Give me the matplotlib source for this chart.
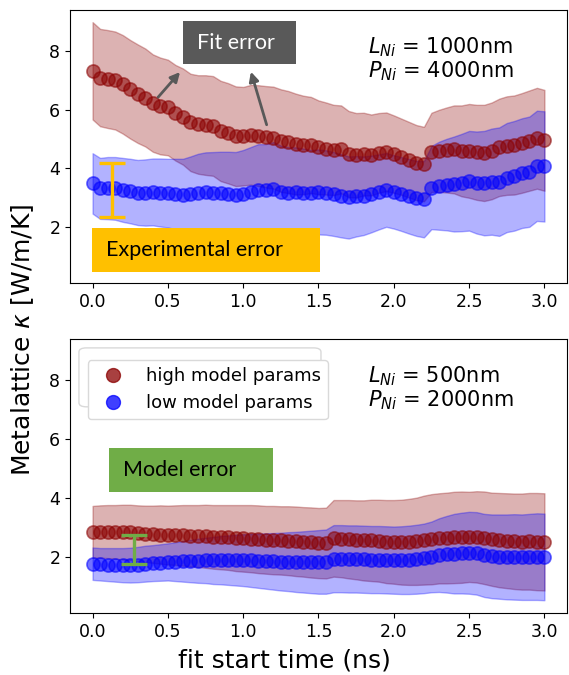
import numpy as np
import matplotlib
matplotlib.use("Agg")
import matplotlib.pyplot as plt
from matplotlib.patches import Rectangle, FancyBboxPatch
from matplotlib.lines import Line2D

# fit start times (ns)
t = np.round(np.arange(61) * 0.05, 2)

# --- top panel: L_Ni = 1000nm, P_Ni = 4000nm ---
top_high = [7.33, 7.10, 7.05, 7.00, 6.87, 6.70, 6.55, 6.42, 6.23, 6.13,
            6.08, 5.90, 5.77, 5.57, 5.50, 5.48, 5.45, 5.28, 5.20, 5.10,
            5.10, 5.15, 5.12, 5.08, 5.05, 4.95, 4.90, 4.83, 4.80, 4.80,
            4.72, 4.68, 4.63, 4.65, 4.49, 4.45, 4.49, 4.46, 4.53, 4.57,
            4.49, 4.40, 4.30, 4.20, 4.15, 4.55, 4.60, 4.63, 4.65, 4.60,
            4.60, 4.55, 4.53, 4.60, 4.72, 4.78, 4.80, 4.87, 4.95, 5.03, 4.96]
top_high_err = [1.66, 1.66, 1.67, 1.67, 1.68, 1.68, 1.68, 1.67, 1.66, 1.65,
                1.63, 1.63, 1.64, 1.66, 1.68, 1.70, 1.70, 1.71, 1.71, 1.70,
                1.68, 1.70, 1.72, 1.73, 1.74, 1.75, 1.74, 1.72, 1.68, 1.64,
                1.60, 1.57, 1.54, 1.50, 1.47, 1.44, 1.41, 1.38, 1.36, 1.34,
                1.32, 1.30, 1.29, 1.28, 1.27, 1.35, 1.40, 1.45, 1.50, 1.55,
                1.60, 1.62, 1.64, 1.65, 1.66, 1.68, 1.69, 1.70, 1.71, 1.72, 1.72]
top_low = [3.49, 3.32, 3.33, 3.32, 3.27, 3.23, 3.18, 3.18, 3.20, 3.18,
           3.16, 3.13, 3.09, 3.13, 3.18, 3.20, 3.18, 3.16, 3.13, 3.09,
           3.13, 3.20, 3.27, 3.25, 3.30, 3.20, 3.18, 3.20, 3.18, 3.16,
           3.20, 3.18, 3.13, 3.07, 3.01, 3.05, 3.07, 3.13, 3.20, 3.27,
           3.20, 3.13, 3.05, 2.98, 2.95, 3.35, 3.41, 3.45, 3.47, 3.52,
           3.58, 3.52, 3.50, 3.55, 3.55, 3.69, 3.75, 3.84, 3.89, 4.09, 4.07]
top_low_err = [1.03, 1.04, 1.06, 1.07, 1.09, 1.10, 1.11, 1.13, 1.14, 1.16,
               1.17, 1.20, 1.24, 1.28, 1.32, 1.35, 1.38, 1.41, 1.44, 1.47,
               1.50, 1.53, 1.56, 1.58, 1.60, 1.58, 1.55, 1.52, 1.50, 1.47,
               1.45, 1.44, 1.43, 1.42, 1.40, 1.37, 1.34, 1.31, 1.28, 1.26,
               1.25, 1.26, 1.27, 1.28, 1.30, 1.42, 1.50, 1.56, 1.62, 1.66,
               1.70, 1.74, 1.78, 1.81, 1.85, 1.86, 1.87, 1.87, 1.88, 1.88, 1.88]

# --- bottom panel: L_Ni = 500nm, P_Ni = 2000nm ---
bot_high = [2.85, 2.86, 2.86, 2.85, 2.84, 2.83, 2.80, 2.78, 2.77, 2.76,
            2.74, 2.74, 2.73, 2.72, 2.71, 2.70, 2.68, 2.67, 2.66, 2.64,
            2.63, 2.62, 2.60, 2.58, 2.57, 2.56, 2.55, 2.53, 2.51, 2.49,
            2.47, 2.47, 2.63, 2.62, 2.60, 2.58, 2.56, 2.56, 2.55, 2.52,
            2.51, 2.50, 2.51, 2.53, 2.57, 2.60, 2.63, 2.64, 2.66, 2.67,
            2.68, 2.68, 2.65, 2.60, 2.57, 2.55, 2.53, 2.52, 2.53, 2.52, 2.51]
bot_high_err = [0.88, 0.89, 0.90, 0.91, 0.93, 0.94, 0.95, 0.96, 0.97, 0.99,
                1.00, 1.01, 1.03, 1.04, 1.05, 1.07, 1.08, 1.09, 1.10, 1.12,
                1.13, 1.14, 1.15, 1.15, 1.16, 1.16, 1.17, 1.18, 1.18, 1.19,
                1.19, 1.20, 1.30, 1.31, 1.33, 1.34, 1.36, 1.38, 1.39, 1.41,
                1.42, 1.44, 1.46, 1.48, 1.51, 1.53, 1.53, 1.54, 1.55, 1.55,
                1.53, 1.55, 1.57, 1.58, 1.60, 1.61, 1.62, 1.63, 1.64, 1.65, 1.65]
bot_low = [1.77, 1.75, 1.74, 1.73, 1.72, 1.72, 1.74, 1.77, 1.79, 1.81,
           1.83, 1.84, 1.85, 1.86, 1.87, 1.88, 1.88, 1.89, 1.89, 1.89,
           1.89, 1.88, 1.87, 1.86, 1.85, 1.84, 1.84, 1.83, 1.83, 1.83,
           1.83, 1.84, 1.94, 1.94, 1.93, 1.93, 1.92, 1.91, 1.91, 1.90,
           1.89, 1.89, 1.90, 1.92, 1.95, 2.00, 2.06, 2.09, 2.11, 2.13,
           2.14, 2.12, 2.05, 2.02, 2.01, 2.00, 2.00, 1.99, 2.00, 2.01, 2.00]
bot_low_err = [0.55, 0.55, 0.56, 0.57, 0.58, 0.59, 0.60, 0.61, 0.61, 0.62,
               0.63, 0.66, 0.69, 0.72, 0.75, 0.77, 0.80, 0.82, 0.84, 0.86,
               0.88, 0.90, 0.92, 0.94, 0.96, 0.98, 1.00, 1.02, 1.04, 1.06,
               1.08, 1.09, 1.14, 1.14, 1.14, 1.14, 1.14, 1.14, 1.14, 1.14,
               1.14, 1.15, 1.16, 1.17, 1.18, 1.20, 1.25, 1.30, 1.35, 1.37,
               1.39, 1.40, 1.41, 1.42, 1.43, 1.44, 1.45, 1.45, 1.46, 1.47, 1.47]

RED = "darkred"
BLUE = "blue"
BOXFONT = "Lato"


def draw_panel(ax, high, high_err, low, low_err, L, P):
    high, high_err = np.array(high), np.array(high_err)
    low, low_err = np.array(low), np.array(low_err)
    ax.fill_between(t, high - high_err, high + high_err, color=RED, alpha=0.3)
    ax.plot(t, high, "o", color=RED, ms=9.5, alpha=0.55, mec=RED, mew=1.2)
    ax.fill_between(t, low - low_err, low + low_err, color=BLUE, alpha=0.3)
    ax.plot(t, low, "o", color=BLUE, ms=9.5, alpha=0.55, mec=BLUE, mew=1.2)
    ax.set_ylim(0.1, 9.4)
    ax.set_xlim(-0.15, 3.15)
    ax.set_yticks([2, 4, 6, 8])
    ax.set_xticks([0, 0.5, 1.0, 1.5, 2.0, 2.5, 3.0])
    ax.tick_params(labelsize=12.5)
    ax.text(0.6, 0.865, r"$L_{Ni}$ = %snm" % L, transform=ax.transAxes,
            fontsize=15, va="center")
    ax.text(0.6, 0.775, r"$P_{Ni}$ = %snm" % P, transform=ax.transAxes,
            fontsize=15, va="center")


def label_box(ax, x0, y0, x1, y1, text, fc, tc, tx):
    ax.add_patch(Rectangle((x0, y0), x1 - x0, y1 - y0, transform=ax.transAxes,
                           facecolor=fc, edgecolor="none", zorder=5))
    ax.text(tx, (y0 + y1) / 2, text, transform=ax.transAxes, color=tc,
            fontsize=15.5, family=BOXFONT, va="center", zorder=6)


def ibeam(ax, x, y0, y1, half, color):
    kw = dict(color=color, lw=2.4, solid_capstyle="butt", zorder=6)
    ax.plot([x, x], [y0, y1], **kw)
    ax.plot([x - half, x + half], [y0, y0], **kw)
    ax.plot([x - half, x + half], [y1, y1], **kw)


fig = plt.figure(figsize=(5.69, 6.75), dpi=100)
ax1 = fig.add_axes([0.123, 0.581, 0.8735, 0.404])
ax2 = fig.add_axes([0.123, 0.092, 0.8735, 0.406])

draw_panel(ax1, top_high, top_high_err, top_low, top_low_err, 1000, 4000)
draw_panel(ax2, bot_high, bot_high_err, bot_low, bot_low_err, 500, 2000)

# annotations on top panel
label_box(ax1, 0.227, 0.802, 0.455, 0.960, "Fit error", "#595959", "white", 0.256)
label_box(ax1, 0.044, 0.040, 0.503, 0.2015, "Experimental error", "#FFC000", "black", 0.073)
arrow = dict(arrowstyle="-|>", color="#595959", lw=2, mutation_scale=14)
ax1.annotate("", xy=(0.593, 7.36), xytext=(0.423, 6.36), arrowprops=arrow, zorder=6)
ax1.annotate("", xy=(1.046, 7.39), xytext=(1.161, 5.40), arrowprops=arrow, zorder=6)
ibeam(ax1, 0.13, 2.36, 4.18, 0.087, "#FFC000")

# annotations on bottom panel
label_box(ax2, 0.0785, 0.4416, 0.4085, 0.602, "Model error", "#70AD47", "black", 0.107)
ibeam(ax2, 0.277, 1.75, 2.74, 0.087, "#70AD47")

ax2.add_patch(FancyBboxPatch((0.018, 0.752), 0.487, 0.215, transform=ax2.transAxes,
                             boxstyle="round,pad=0,rounding_size=0.015",
                             facecolor="white", edgecolor="#d9d9d9", lw=1, zorder=4))
handles = [Line2D([], [], ls="none", marker="o", ms=10, color=RED, alpha=0.75),
           Line2D([], [], ls="none", marker="o", ms=10, color=BLUE, alpha=0.75)]
leg = ax2.legend(handles, ["high model params", "low model params"],
                 loc="upper left", bbox_to_anchor=(0.036, 0.923), borderaxespad=0,
                 fontsize=13, handletextpad=0.8, borderpad=0.4, labelspacing=0.5,
                 framealpha=1, edgecolor="#d9d9d9")
leg.set_zorder(7)

fig.text(0.5, 0.022, "fit start time (ns)", ha="center", va="center", fontsize=18)
fig.text(0.04, 0.496, r"Metalattice $\kappa$ [W/m/K]", ha="center", va="center",
         rotation=90, fontsize=18)

fig.savefig("out.png", dpi=100)
